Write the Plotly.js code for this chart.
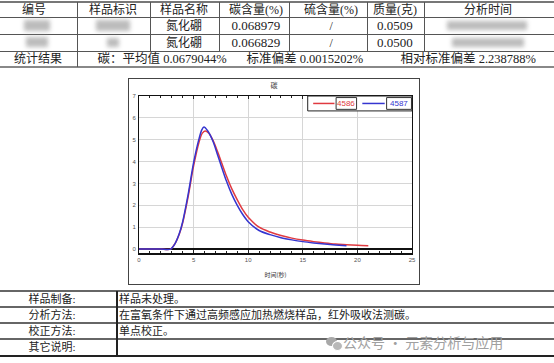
<!DOCTYPE html>
<html>
<head>
<meta charset="utf-8">
<script src="https://cdn.plot.ly/plotly-3.0.1.min.js"></script>
<style>
  html, body { margin:0; padding:0; background:#fff; }
  #page { position:relative; width:554px; height:363px; overflow:hidden; background:#fff;
          font-family:"Liberation Serif","Noto Sans CJK SC",serif; color:#222; }
  .t { position:absolute; white-space:nowrap; font-size:12px; line-height:14px; }
  .hl { position:absolute; left:0; width:554px; background:#555; }
  .vl { position:absolute; width:1px; background:#555; }
  .blur { position:absolute; background:#a0a0a0; filter:blur(2px); opacity:0.7; }
  #frame { position:absolute; left:128px; top:78px; width:290px; height:205px; border:1px solid #444; }
  #chart { width:290px; height:205px; }
  #wm { position:absolute; left:343px; top:334px; font-family:"Noto Sans CJK SC",sans-serif;
        font-size:14px; line-height:17px; color:#a0a0a0; white-space:nowrap; }
</style>
</head>
<body>
<div id="page">
  <div id="frame"><div id="chart"></div></div>
</div>
<script>
// ---------- data ----------
const headers = ["编号", "样品标识", "样品名称", "碳含量(%)", "硫含量(%)", "质量(克)", "分析时间"];
const sampleNames = ["氮化硼", "氮化硼"];
const carbonPct = ["0.068979", "0.066829"];
const sulfurPct = ["/", "/"];
const massG = ["0.0509", "0.0500"];
const statsLabel = "统计结果";
const statsItems = ["碳：平均值 0.0679044%", "标准偏差 0.0015202%", "相对标准偏差 2.238788%"];
const noteLabels = ["样品制备:", "分析方法:", "校正方法:", "其它说明:"];
const noteTexts = ["样品未处理。", "在富氧条件下通过高频感应加热燃烧样品，红外吸收法测碳。", "单点校正。", ""];
const chartTitle = "碳";
const xTitle = "时间(秒)";
const seriesNames = ["4586", "4587"];
const seriesColors = ["#e03a40", "#3535d0"];
const x4586 = [0, 1, 2, 2.9, 3.3, 3.7, 4.0, 4.5, 5.0, 5.5, 5.8, 6.05, 6.4, 6.8, 7.2, 7.6, 8.0, 8.5, 9.0, 9.5, 10, 11, 12, 13, 14, 15, 16, 17, 18, 19, 20, 21];
const y4586 = [0, 0, 0, 0, 0.25, 0.7, 1.2, 2.4, 3.8, 4.9, 5.3, 5.4, 5.3, 4.95, 4.45, 3.9, 3.35, 2.75, 2.25, 1.8, 1.45, 1.0, 0.78, 0.62, 0.5, 0.41, 0.34, 0.28, 0.23, 0.2, 0.17, 0.15];
const x4587 = [0, 1, 2, 2.9, 3.3, 3.7, 4.0, 4.5, 5.0, 5.5, 5.75, 5.95, 6.3, 6.8, 7.2, 7.6, 8.0, 8.5, 9.0, 9.5, 10, 11, 12, 13, 14, 15, 16, 17, 18, 19];
const y4587 = [0, 0, 0, 0, 0.25, 0.72, 1.25, 2.5, 3.95, 5.05, 5.45, 5.58, 5.4, 4.9, 4.3, 3.7, 3.12, 2.5, 2.0, 1.58, 1.25, 0.85, 0.66, 0.52, 0.42, 0.34, 0.28, 0.23, 0.19, 0.15];

// ---------- table drawing ----------
const page = document.getElementById('page');
function text(str, cx, cy, opts) {
  opts = opts || {};
  const d = document.createElement('div');
  d.className = 't';
  d.textContent = str;
  if (opts.size) { d.style.fontSize = opts.size + 'px'; }
  page.appendChild(d);
  const w = d.offsetWidth, h = d.offsetHeight;
  d.style.left = (opts.left ? cx : cx - w / 2) + 'px';
  d.style.top = (cy - h / 2) + 'px';
  return d;
}
function hline(y, th, col) {
  const d = document.createElement('div'); d.className = 'hl';
  d.style.top = y + 'px'; d.style.height = th + 'px';
  if (col) d.style.background = col;
  page.appendChild(d);
}
function vline(x, y0, y1, th, col) {
  const d = document.createElement('div'); d.className = 'vl';
  d.style.left = x + 'px'; d.style.top = y0 + 'px'; d.style.height = (y1 - y0) + 'px';
  if (th) d.style.width = th + 'px';
  if (col) d.style.background = col;
  page.appendChild(d);
}
function blur(x, y, w, h) {
  const d = document.createElement('div'); d.className = 'blur';
  d.style.left = x + 'px'; d.style.top = y + 'px'; d.style.width = w + 'px'; d.style.height = h + 'px';
  page.appendChild(d);
}

// top table geometry
const colSep = [77, 150, 219, 289, 367, 424];
const colCenters = [34, 113, 184, 256, 331, 395, 488];
const rowCenters = [9.5, 25.5, 42.5, 59];

hline(1, 2, '#777');
hline(17, 1, '#555');
hline(34, 1, '#555');
hline(51, 1, '#555');
hline(66, 2, '#888');
colSep.forEach((x, i) => vline(x, 2, i === 0 ? 67 : 51, 1, '#555'));

headers.forEach((h, i) => text(h, colCenters[i], rowCenters[0]));
for (let r = 0; r < 2; r++) {
  const cy = rowCenters[r + 1];
  text(sampleNames[r], colCenters[2], cy);
  text(carbonPct[r], colCenters[3], cy, {size: 13});
  text(sulfurPct[r], colCenters[4], cy);
  text(massG[r], colCenters[5], cy, {size: 13});
}
// blurred (redacted) cells
blur(24, 20, 26, 11);
blur(26, 37, 22, 10);
blur(96, 20, 34, 11);
blur(107, 38, 12, 9);
blur(447, 21, 80, 9);
blur(452, 38, 72, 9);

text(statsLabel, 38, rowCenters[3]);
text(statsItems[0], 162, rowCenters[3], {size: 12.5});
text(statsItems[1], 305, rowCenters[3], {size: 12.5});
text(statsItems[2], 468, rowCenters[3], {size: 12.5});

// bottom table
const noteCenters = [298.5, 314.5, 331, 347];
hline(290, 2, '#666');
hline(306, 1.5, '#666');
hline(322, 1.5, '#666');
hline(338, 1.5, '#666');
hline(355, 2, '#222');
vline(116, 291, 356, 2, '#222');
noteLabels.forEach((s, i) => text(s, 52, noteCenters[i], {size: 11}));
noteTexts.forEach((s, i) => { if (s) text(s, 119, noteCenters[i], {size: 11, left: true}); });

// watermark
const wmIcon = document.createElement('div');
wmIcon.style.cssText = 'position:absolute;left:326px;top:337px;width:11px;height:9px;border-radius:50%;background:#a8a8a8;';
page.appendChild(wmIcon);
const wmIcon2 = document.createElement('div');
wmIcon2.style.cssText = 'position:absolute;left:332px;top:341px;width:9px;height:8px;border-radius:50%;background:#b8b8b8;border:1px solid #fff;';
page.appendChild(wmIcon2);
const wm = document.createElement('div'); wm.id = 'wm';
wm.textContent = '公众号 · 元素分析与应用';
page.appendChild(wm);

// ---------- chart ----------
const traces = [
  { x: x4586, y: y4586, name: seriesNames[0], type: 'scatter', mode: 'lines',
    line: { color: seriesColors[0], width: 1.5, shape: 'spline', smoothing: 0.8 } },
  { x: x4587, y: y4587, name: seriesNames[1], type: 'scatter', mode: 'lines',
    line: { color: seriesColors[1], width: 1.5, shape: 'spline', smoothing: 0.8 } }
];
// manual table-style legend (paper coords of plot area)
const lgTop = 1.0, lgBot = 0.905, lgMid = (lgTop + lgBot) / 2;
const lgCells = [
  { line: [0.638, 0.716], box: [0.722, 0.797] },
  { line: [0.818, 0.900], box: [0.907, 0.998] }
];
const shapes = [
  { type: 'rect', xref: 'paper', yref: 'paper', x0: 0.618, x1: 1.0, y0: lgBot, y1: lgTop,
    line: { color: '#222', width: 1 }, fillcolor: '#fff', layer: 'above' }
];
const annotations = [];
lgCells.forEach((c, i) => {
  shapes.push({ type: 'line', xref: 'paper', yref: 'paper', x0: c.line[0], x1: c.line[1], y0: lgMid, y1: lgMid,
                line: { color: seriesColors[i], width: 1.5 }, layer: 'above' });
  shapes.push({ type: 'rect', xref: 'paper', yref: 'paper', x0: c.box[0], x1: c.box[1], y0: lgBot + 0.01, y1: lgTop - 0.01,
                line: { color: '#333', width: 1 }, layer: 'above' });
  annotations.push({ xref: 'paper', yref: 'paper', x: (c.box[0] + c.box[1]) / 2, y: lgMid, text: seriesNames[i],
                     showarrow: false, xanchor: 'center', yanchor: 'middle',
                     font: { size: 8, color: seriesColors[i], family: 'Liberation Sans Narrow, Liberation Sans, sans-serif' } });
});
const layout = {
  width: 290, height: 205,
  margin: { l: 10, r: 7, t: 17, b: 31 },
  paper_bgcolor: '#fff', plot_bgcolor: '#fff',
  font: { family: 'Liberation Sans, Noto Sans CJK SC, sans-serif', size: 6, color: '#444' },
  title: { text: chartTitle, font: { size: 7, color: '#333', family: 'Noto Sans CJK SC' }, x: 0.5, xanchor: 'center', y: 0.97, yanchor: 'middle' },
  showlegend: false,
  shapes: shapes,
  annotations: annotations,
  xaxis: { range: [0, 25], dtick: 5, tick0: 0, showgrid: true, gridcolor: '#d6d6d6', gridwidth: 1,
           showline: true, linecolor: '#111', linewidth: 1.5, mirror: 'allticks',
           ticks: 'inside', ticklen: 3, tickcolor: '#222',
           minor: { dtick: 1, ticks: 'inside', ticklen: 2, tickcolor: '#222', showgrid: false },
           zeroline: false, tickfont: { size: 6, color: '#555' },
           title: { text: xTitle, font: { size: 6, color: '#333', family: 'Noto Sans CJK SC' }, standoff: 11 } },
  yaxis: { range: [-0.18, 7], dtick: 1, tick0: 0, showgrid: true, gridcolor: '#d6d6d6', gridwidth: 1,
           showline: true, linecolor: '#111', linewidth: 1, mirror: true,
           ticks: '', zeroline: true, zerolinecolor: '#111', zerolinewidth: 2,
           tickfont: { size: 6, color: '#555' }, ticklabelstandoff: 1 }
};
Plotly.newPlot('chart', traces, layout, { displayModeBar: false, staticPlot: true });
</script>
</body>
</html>
